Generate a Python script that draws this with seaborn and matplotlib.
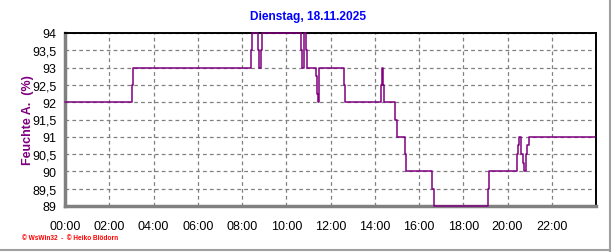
import matplotlib
matplotlib.use("Agg")
import matplotlib.pyplot as plt
import seaborn as sns
import pandas as pd
from matplotlib.ticker import FuncFormatter, MultipleLocator

# Data (hours since midnight, relative humidity %)
hours = [0, 3.05, 3.09, 8.40, 8.47, 8.72, 8.78, 8.84, 8.89, 10.66, 10.71, 10.79,
         10.88, 10.93, 11.33, 11.38, 11.42, 11.47, 12.60, 12.64, 14.28, 14.32,
         14.37, 14.42, 14.90, 14.99, 15.35, 15.40, 16.59, 16.68, 19.10, 19.15,
         20.41, 20.46, 20.50, 20.63, 20.68, 20.73, 20.82, 20.88, 20.95, 23.97]
humidity = [92, 92.5, 93, 93.5, 94, 93.5, 93, 93.5, 94, 93.5, 93, 94,
            93.5, 93, 92.75, 92.25, 92, 93, 92.5, 92, 92.5, 93,
            92.5, 92, 91.5, 91, 90.5, 90, 89.5, 89, 89.5, 90,
            90.5, 90.75, 91, 90.5, 90.25, 90, 90.5, 90.75, 91, 91]
x_ticks = list(range(0, 24, 2))
x_tick_labels = [f"{h:02d}:00" for h in x_ticks]
title = "Dienstag, 18.11.2025"
ylabel = "Feuchte A.  (%)"
footer = "\u00a9 WsWin32  -  \u00a9 Heiko Bl\u00f6dorn"

sns.set_style("white")
plt.rcParams['font.family'] = ['Liberation Sans', 'DejaVu Sans']

fig = plt.figure(figsize=(6.16, 2.53), dpi=100)
ax = fig.add_axes([65/616, 1-207/253, (596-65)/616, (207-34)/253])

df = pd.DataFrame({"h": hours, "v": humidity})
sns.lineplot(data=df, x="h", y="v", ax=ax, drawstyle="steps-post",
             color="#800080", linewidth=1.1, estimator=None, sort=False,
             clip_on=False, zorder=5)

ax.set_xlim(0, 24)
ax.set_ylim(89, 94)
ax.set_xticks(x_ticks)
ax.set_xticklabels(x_tick_labels)
ax.xaxis.set_minor_locator(MultipleLocator(0.5))
ax.yaxis.set_major_locator(MultipleLocator(0.5))
ax.yaxis.set_minor_locator(MultipleLocator(0.1))
ax.yaxis.set_major_formatter(FuncFormatter(
    lambda v, p: (f"{v:g}").replace(".", ",")))

ax.grid(True, which="major", color="#808080", linestyle=(0, (3, 2.5)), linewidth=0.9)
ax.set_axisbelow(True)

for s in ["top", "right"]:
    ax.spines[s].set_color("black")
    ax.spines[s].set_linewidth(1.4)
for s in ["left", "bottom"]:
    ax.spines[s].set_color("#808080")
    ax.spines[s].set_linewidth(2.5)

ax.tick_params(axis="both", which="major", labelsize=9, color="#808080",
               length=4, width=1.2, direction="out", pad=5, labelcolor="black")
ax.tick_params(axis="x", which="minor", color="#808080", length=3, width=1.2,
               direction="out")
ax.tick_params(axis="y", which="minor", color="#808080", length=2, width=1.0,
               direction="out")
ax.tick_params(axis="y", which="major", pad=2)
ax.tick_params(axis="x", which="major", pad=6)

ax.set_xlabel("")
ax.set_ylabel(ylabel, color="#800080", fontsize=9, fontweight="bold")
ax.yaxis.set_label_coords(-0.058, 0.5)

fig.text(308/616, 1-17/253, title, ha="center", va="center", color="#0000FF",
         fontsize=8.6, fontweight="bold")
fig.text(22/616, 1-239/253, footer, ha="left", va="center", color="#FF0000",
         fontsize=4.7, fontweight="bold")

# outer frame lines (right and bottom)
fig.add_artist(plt.Line2D([610/616, 610/616], [0, 1], color="#A0A0A0", linewidth=1.5,
                          transform=fig.transFigure))
fig.add_artist(plt.Line2D([0, 610/616], [2/253, 2/253], color="#A0A0A0", linewidth=1.5,
                          transform=fig.transFigure))

fig.savefig("out.png", dpi=100)
